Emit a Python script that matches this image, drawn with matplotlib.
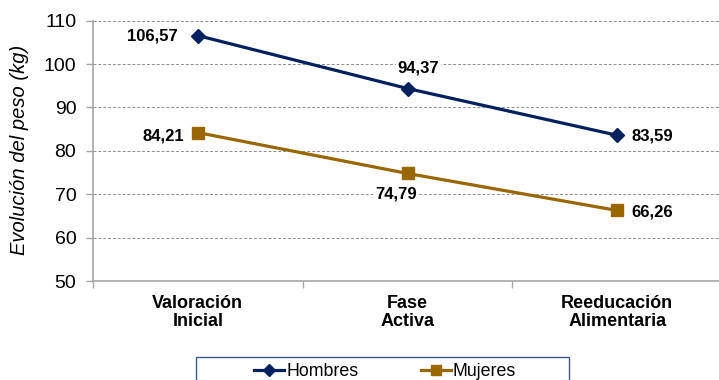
import matplotlib
matplotlib.use('Agg')
import matplotlib.pyplot as plt
from matplotlib.patches import Rectangle
from matplotlib.lines import Line2D

plt.rcParams['font.family'] = ['Liberation Sans', 'DejaVu Sans']

# datos
etapas = ["Valoración\nInicial", "Fase\nActiva", "Reeducación\nAlimentaria"]
hombres = [106.57, 94.37, 83.59]
mujeres = [84.21, 74.79, 66.26]
etiquetas_h = ["106,57", "94,37", "83,59"]
etiquetas_m = ["84,21", "74,79", "66,26"]
y_ticks = [50, 60, 70, 80, 90, 100, 110]

color_h = '#002060'
color_m = '#996600'
gris = '#a6a6a6'

fig = plt.figure(figsize=(7.19, 3.80), dpi=100)
ax = fig.add_axes([0.1294, 0.2605, 0.8748, 0.685])

x = list(range(len(etapas)))
ax.plot(x, hombres, color=color_h, lw=2.3, marker='D', markersize=7.5, label='Hombres', zorder=3)
ax.plot(x, mujeres, color=color_m, lw=2.3, marker='s', markersize=8.5, label='Mujeres', zorder=3)

# etiquetas de datos (desplazamiento en puntos)
pos_h = [((-14.5, 0), 'right'), ((8, 14.5), 'center'), ((10.5, -0.5), 'left')]
pos_m = [((-10, -2.5), 'right'), ((-8, -14.5), 'center'), ((10, -1), 'left')]
caja = dict(boxstyle='square,pad=0.1', fc='white', ec='none')
for i in x:
    (dx, dy), ha = pos_h[i]
    ax.annotate(etiquetas_h[i], (i, hombres[i]), xytext=(dx, dy), textcoords='offset points',
                ha=ha, va='center', fontsize=12, fontweight='bold', bbox=caja, zorder=4)
    (dx, dy), ha = pos_m[i]
    ax.annotate(etiquetas_m[i], (i, mujeres[i]), xytext=(dx, dy), textcoords='offset points',
                ha=ha, va='center', fontsize=12, fontweight='bold', bbox=caja, zorder=4)

ax.set_xlim(-0.5, 2.5)
ax.set_ylim(50, 110)
ax.set_yticks(y_ticks)
ax.set_xticks(x)
ax.set_xticklabels(etapas, fontsize=13, fontweight='bold')
for lbl in ax.get_xticklabels():
    lbl.set_linespacing(1.1)
ax.set_xticks([-0.5, 0.5, 1.5, 2.5], minor=True)
ax.tick_params(axis='x', which='major', length=0, pad=10)
ax.tick_params(axis='x', which='minor', length=5, color=gris, width=1)
ax.tick_params(axis='y', length=5, color=gris, width=1, pad=7, labelsize=14)

ax.grid(axis='y', color='#8c8c8c', ls=(0, (3, 2)), lw=0.7)
ax.set_axisbelow(True)
for s in ['top', 'right']:
    ax.spines[s].set_visible(False)
for s in ['left', 'bottom']:
    ax.spines[s].set_color(gris)
    ax.spines[s].set_linewidth(1.2)

fig.text(20 / 719, 1 - 150 / 380, "Evolución del peso (kg)", rotation=90, style='italic',
         fontsize=14.5, ha='center', va='center')

# leyenda
handles = [Line2D([], [], color=color_h, lw=2.3, marker='D', markersize=6),
           Line2D([], [], color=color_m, lw=2.3, marker='s', markersize=7.5)]
fig.legend(handles, ['Hombres', 'Mujeres'], loc='center', bbox_to_anchor=(385 / 719, 1 - 372 / 380),
           ncol=2, frameon=False, fontsize=12.8, handlelength=1.7, handletextpad=0.1,
           columnspacing=3.5)
fig.patches.append(Rectangle((196 / 719, -0.1), (569 - 196) / 719, 0.1 + 1 - 357 / 380,
                             transform=fig.transFigure, fill=False, ec='#385d8a', lw=1))

fig.savefig('out.png', dpi=100)
